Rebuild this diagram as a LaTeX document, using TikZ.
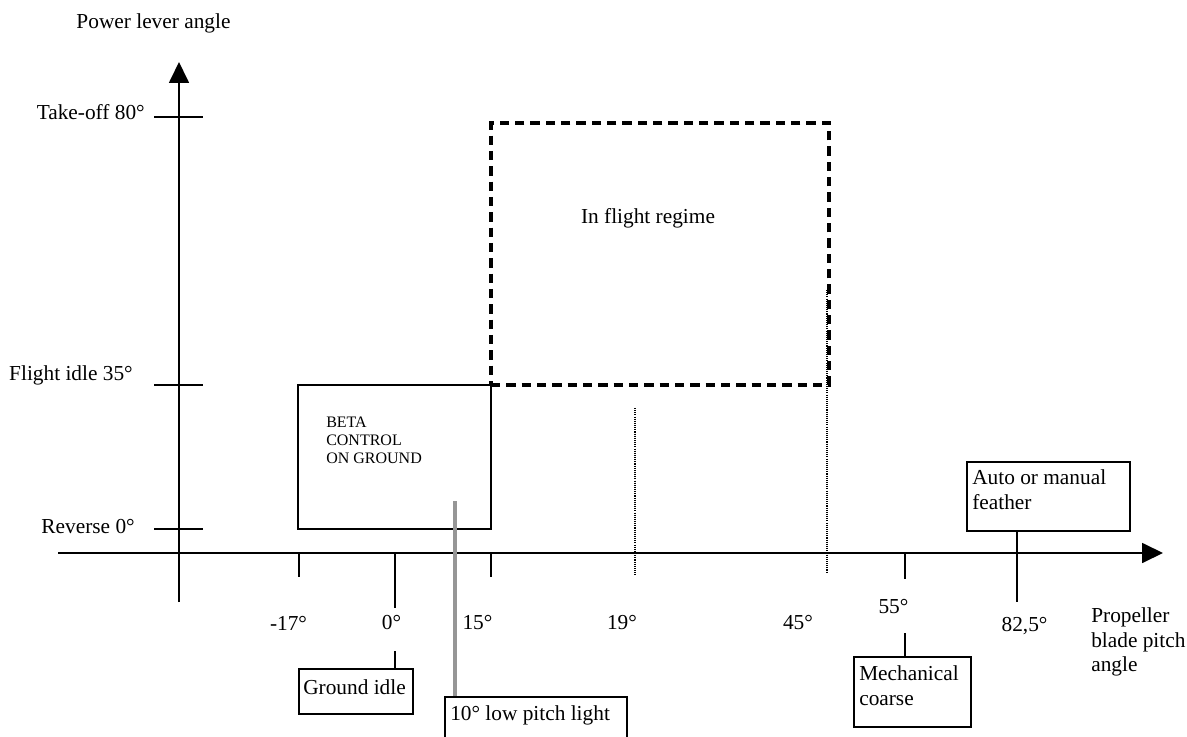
\documentclass[tikz,border=0pt]{standalone}
\usepackage{fontspec}
\setmainfont{Liberation Serif}
\usetikzlibrary{arrows.meta}
\begin{document}
\begin{tikzpicture}[x=0.75pt,y=-0.75pt,
  axis/.style={line width=1.3pt,-{Triangle[length=15.75pt,width=15pt]}},
  tick/.style={line width=1.3pt},
  lbl/.style={inner sep=0pt,font=\fontsize{16}{19}\selectfont},
  boxnode/.style={draw,line width=1.3pt,inner sep=0pt},
  dotline/.style={line width=0.9pt,dash pattern=on 0.8pt off 0.8pt},
  greyline/.style={line width=2.3pt,draw={rgb,255:red,150;green,150;blue,150}},
  flightbox/.style={draw,line width=2.4pt,dash pattern=on 7pt off 4.5pt,inner sep=0pt}]
\useasboundingbox (0,0) rectangle (1187,737);
% axes
\coordinate (xstart) at (58,553);
\coordinate (xend) at (1163,553);
\coordinate (ystart) at (179,602);
\coordinate (yend) at (179,62);
\draw[axis] (xstart) -- (xend);
\draw[axis] (ystart) -- (yend);
% vertical axis ticks and labels
\draw[tick] (154,117) -- (203,117);
\draw[tick] (154,385) -- (203,385);
\draw[tick] (154,529) -- (203,529);
\node[lbl] (ytitle) at (153.5,23) {Power lever angle};
\node[lbl,anchor=east] (ltakeoff) at (145,112) {Take-off 80°};
\node[lbl,anchor=east] (lflight) at (133,375) {Flight idle 35°};
\node[lbl,anchor=east] (lreverse) at (135,527) {Reverse 0°};
% in flight regime box
\node[flightbox,minimum width=253.5pt,minimum height=196.5pt] (flight) at (660,254) {};
\node[lbl] (flighttext) at (648,218) {In flight regime};
% beta box
\node[boxnode,minimum width=144.75pt,minimum height=108pt] (beta) at (394.5,457) {};
\node[inner sep=0pt,anchor=west,align=left,font=\fontsize{12}{13.5}\selectfont] (betatext) at (326,440) {BETA\\CONTROL\\ON GROUND};
% dotted lines
\draw[dotline] (635,408) -- (635,575);
\draw[dotline] (827,290) -- (827,573);
% horizontal ticks
\draw[tick] (299,553) -- (299,577);
\draw[tick] (395,553) -- (395,608);
\draw[tick] (491,553) -- (491,577);
\draw[tick] (905,553) -- (905,579);
% pitch labels
\node[lbl] (pm17) at (288.5,623) {-17°};
\node[lbl] (p0) at (391.5,623) {0°};
\node[lbl] (p15) at (477.5,623) {15°};
\node[lbl] (p19) at (622,623) {19°};
\node[lbl] (p45) at (798,623) {45°};
\node[lbl] (p55) at (893.5,607) {55°};
\node[lbl] (p825) at (1024.5,626) {82,5°};
\node[lbl,anchor=west,align=left,font=\fontsize{16}{18.4}\selectfont] (xtitle) at (1091,642) {Propeller\\blade pitch\\angle};
% ground idle
\node[boxnode,minimum width=85.5pt,minimum height=33.75pt] (gbox) at (356,691.5) {};
\node[lbl,anchor=west] (gtext) at (303,687) {Ground idle};
\coordinate (gtop) at (395,651);
\draw[tick] (gtop) -- (gbox.north -| gtop);
% low pitch light
\node[boxnode,minimum width=136.5pt,minimum height=36pt] (lbox) at (536,721) {};
\node[lbl,anchor=west] (ltext) at (450,715) {10° low pitch light};
\coordinate (ltop) at (455,501);
\draw[greyline] (ltop) -- (lbox.north -| ltop);
% feather
\node[boxnode,minimum width=122.25pt,minimum height=51.75pt] (fbox) at (1048.5,496.5) {};
\node[anchor=west,inner sep=0pt,align=left,font=\fontsize{16}{18.75}\selectfont] (ftext) at (972,489.5) {Auto or manual\\feather};
\coordinate (fbot) at (1017,602);
\draw[tick] (fbox.south -| fbot) -- (fbot);
% mechanical coarse
\node[boxnode,minimum width=87.75pt,minimum height=52.5pt] (mbox) at (912.5,692) {};
\node[anchor=west,inner sep=0pt,align=left,font=\fontsize{16}{18.75}\selectfont] (mtext) at (859,685.5) {Mechanical\\coarse};
\coordinate (mtop) at (905,633);
\draw[tick] (mtop) -- (mbox.north -| mtop);
\end{tikzpicture}
\end{document}
